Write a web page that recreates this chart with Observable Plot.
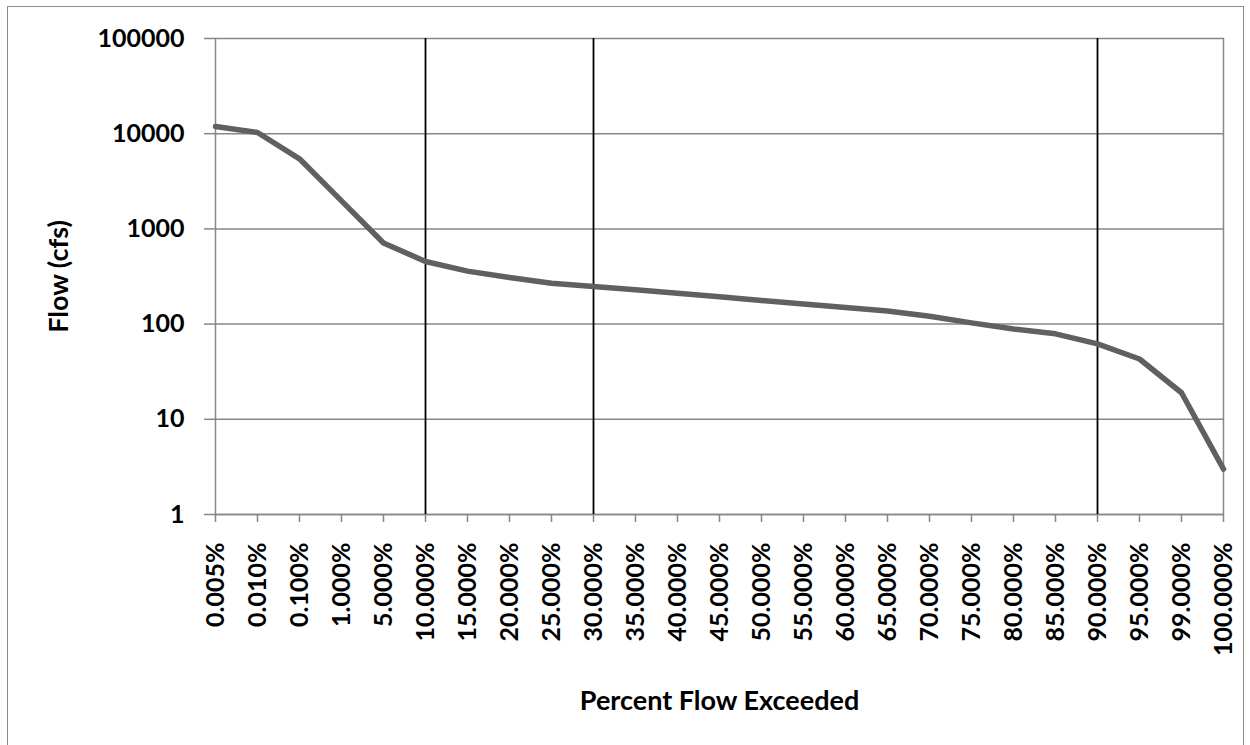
<!DOCTYPE html>
<html>
<head>
<meta charset="utf-8">
<script src="https://cdn.jsdelivr.net/npm/d3@7"></script>
<script src="https://cdn.jsdelivr.net/npm/@observablehq/plot@0.6"></script>
<style>
  body { margin: 0; background: #fff; }
  #wrap { position: relative; width: 1250px; height: 745px; overflow: hidden; }
  #border { position: absolute; left: 7px; top: 6px; width: 1235px; height: 800px; border: 1.5px solid #8c8c8c; pointer-events: none; }
</style>
</head>
<body>
<div id="wrap"><div id="chart"></div><div id="border"></div></div>
<script>
const categories = ["0.005%","0.010%","0.100%","1.000%","5.000%","10.000%","15.000%","20.000%","25.000%","30.000%","35.000%","40.000%","45.000%","50.000%","55.000%","60.000%","65.000%","70.000%","75.000%","80.000%","85.000%","90.000%","95.000%","99.000%","100.000%"];
const flows = [11900,10300,5450,1970,710,455,360,308,268,248,229,211,194,177,163,149,137,121,103,89,79,62,43,19,3.0];
const yTicks = [1,10,100,1000,10000,100000];
const markers = ["10.000%","30.000%","90.000%"];
const xTitle = "Percent Flow Exceeded";
const yTitle = "Flow (cfs)";

const data = categories.map((c, i) => ({pct: c, flow: flows[i]}));
const gray = "#878787";

const chart = Plot.plot({
  width: 1250, height: 745,
  marginLeft: 214, marginRight: 26, marginTop: 38, marginBottom: 231,
  style: {fontFamily: "Lato, sans-serif", fontSize: "25px", fontWeight: "bold", color: "#000", background: "#fff"},
  x: {type: "point", domain: categories, padding: 0},
  y: {type: "log", domain: [1, 100000]},
  marks: [
    Plot.gridY(yTicks, {stroke: gray, strokeOpacity: 1, strokeWidth: 1.5}),
    Plot.ruleX([categories[0], categories[categories.length - 1]], {stroke: gray, strokeWidth: 1.5}),
    Plot.ruleY([1], {stroke: gray, strokeWidth: 1.5}),
    Plot.ruleX(markers, {stroke: "#000", strokeWidth: 1.8}),
    Plot.line(data, {x: "pct", y: "flow", stroke: "#606060", strokeWidth: 5.5}),
    Plot.axisY(yTicks, {tickFormat: d => String(d), tickSize: 10, tickPadding: 20, stroke: gray, strokeWidth: 1.5, label: null}),
    Plot.axisX({tickRotate: -90, tickSize: 8, tickPadding: 20, stroke: gray, strokeWidth: 1.5, label: null}),
    Plot.text([xTitle], {text: d => d, frameAnchor: "bottom", dy: 195, fontSize: 27, fill: "#000"}),
    Plot.text([yTitle], {text: d => d, frameAnchor: "left", textAnchor: "middle", dx: -155, rotate: -90, fontSize: 27, fill: "#000"})
  ]
});
document.getElementById("chart").appendChild(chart);
</script>
</body>
</html>
